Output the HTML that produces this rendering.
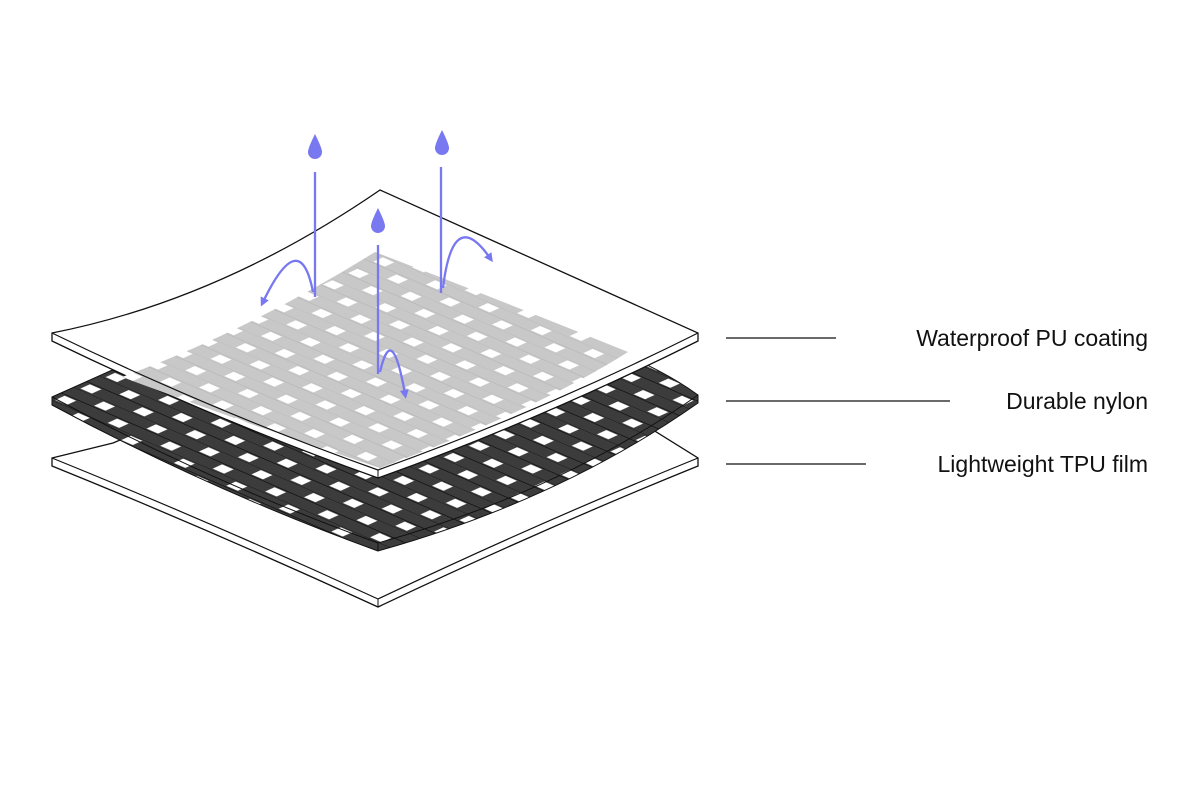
<!DOCTYPE html>
<html><head><meta charset="utf-8"><style>
html,body{margin:0;padding:0;background:#fff;}
svg{display:block;}
text{font-family:"Liberation Sans",sans-serif;font-size:23px;fill:#111;}
</style></head><body>
<svg width="1200" height="800" viewBox="0 0 1200 800">
<defs>
  <pattern id="nyl" width="16" height="8" patternUnits="userSpaceOnUse" patternTransform="matrix(3.28,1.43,3.15,-1.43,52,400)">
    <rect width="16" height="8" fill="#3c3c3c"/>
    <rect x="0.5" y="0.5" width="3.5" height="3" fill="#fff"/>
    <rect x="8.5" y="4.5" width="3.5" height="3" fill="#fff"/>
    <path d="M0 4H16M0 8H16" stroke="#111" stroke-width="0.3"/>
  </pattern>
  <pattern id="gry" width="16" height="8" patternUnits="userSpaceOnUse" patternTransform="matrix(3.28,1.43,3.15,-1.43,52,336)">
    <rect width="16" height="8" fill="#c8c8c8"/>
    <rect x="0.5" y="0.5" width="3.5" height="3" fill="#fff"/>
    <rect x="8.5" y="4.5" width="3.5" height="3" fill="#fff"/>
    <path d="M0 4H16M0 8H16" stroke="#b8b8b8" stroke-width="0.3"/>
  </pattern>
  <marker id="ah" markerWidth="9" markerHeight="9" refX="4" refY="4.5" orient="auto" markerUnits="userSpaceOnUse">
    <path d="M0,0 L9,4.5 L0,9 Z" fill="#7878f0"/>
  </marker>
</defs>

<!-- bottom film -->
<path d="M52,466 Q215,532 378,607 Q540,530 698,466 L698,458 L637,420 L380,330 L113,443 L52,458 Z" fill="#fff" stroke="#111" stroke-width="1.3"/>
<path d="M52,458 Q215,524 378,599 Q540,522 698,458" fill="none" stroke="#111" stroke-width="1.2"/>
<line x1="378" y1="599" x2="378" y2="607" stroke="#111"/>

<!-- nylon -->
<path d="M52,405 Q210,490 378,551 Q560,500 698,403 L698,395 Q650,360 560,330 L380,250 L52,397 Z" fill="url(#nyl)" stroke="#111" stroke-width="1"/>
<path d="M52,397 Q210,482 378,543 Q560,492 698,395" fill="none" stroke="#111" stroke-width="1"/>
<line x1="378" y1="543" x2="378" y2="551" stroke="#111"/>

<!-- top sheet -->
<path d="M52,341 Q215,420 378,478 Q540,420 698,341 L698,333 L380,190 Q220,300 52,333 Z" fill="#fff" stroke="#111" stroke-width="1.3"/>
<!-- gray weave -->
<path d="M122,377 Q250,330 375,252 Q500,300 628,352 Q540,408 380,468 Q250,425 122,377 Z" fill="url(#gry)"/>
<path d="M52,333 Q215,412 378,470 Q540,412 698,333" fill="none" stroke="#111" stroke-width="1.2"/>
<line x1="378" y1="470" x2="378" y2="478" stroke="#111"/>

<!-- blue arrows -->
<g fill="#7878f0" stroke="none">
  <path d="M315,134 Q308,148 308,152 A7,7 0 0 0 322,152 Q322,148 315,134 Z"/>
  <path d="M442,130 Q435,144 435,148 A7,7 0 0 0 449,148 Q449,144 442,130 Z"/>
  <path d="M378,208 Q371,222 371,226 A7,7 0 0 0 385,226 Q385,222 378,208 Z"/>
</g>
<g stroke="#7878f0" stroke-width="2.3" fill="none">
  <line x1="315" y1="172" x2="315" y2="297"/>
  <line x1="441" y1="167" x2="441" y2="293"/>
  <line x1="378" y1="245" x2="378" y2="374"/>
  <path d="M313,292 Q300,225 263,302" marker-end="url(#ah)"/>
  <path d="M443,288 Q453,205 490,258" marker-end="url(#ah)"/>
  <path d="M380,372 Q392,320 405,394" marker-end="url(#ah)"/>
</g>

<!-- labels -->
<g stroke="#111" stroke-width="1.2">
  <line x1="726" y1="338" x2="836" y2="338"/>
  <line x1="726" y1="401" x2="950" y2="401"/>
  <line x1="726" y1="464" x2="866" y2="464"/>
</g>
<text x="1148" y="346" text-anchor="end">Waterproof PU coating</text>
<text x="1148" y="409" text-anchor="end">Durable nylon</text>
<text x="1148" y="472" text-anchor="end">Lightweight TPU film</text>
</svg>
</body></html>
